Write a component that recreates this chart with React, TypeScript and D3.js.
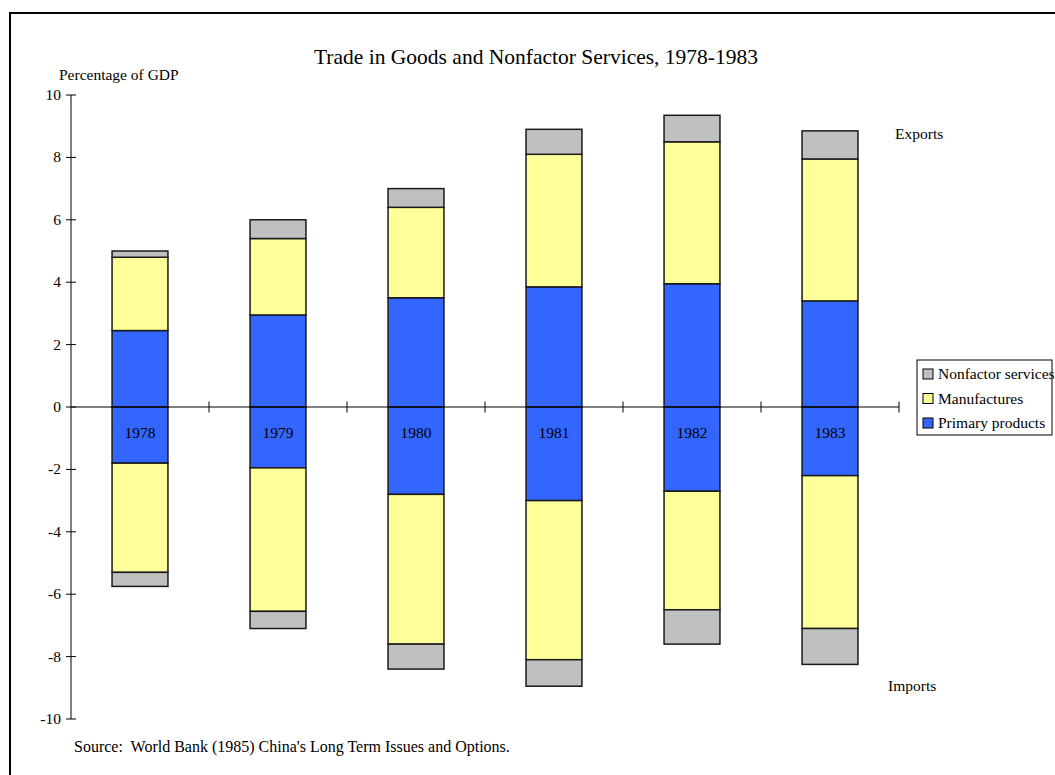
import React, { useEffect, useRef } from "react";
import * as d3 from "d3";

const years = ["1978", "1979", "1980", "1981", "1982", "1983"];
// exports, % of GDP (component values)
const primaryExports = [2.45, 2.95, 3.5, 3.85, 3.95, 3.4];
const manufExports = [2.35, 2.45, 2.9, 4.25, 4.55, 4.55];
const nonfactorExports = [0.2, 0.6, 0.6, 0.8, 0.85, 0.9];
// imports, % of GDP (negative)
const primaryImports = [-1.8, -1.95, -2.8, -3.0, -2.7, -2.2];
const manufImports = [-3.5, -4.6, -4.8, -5.1, -3.8, -4.9];
const nonfactorImports = [-0.45, -0.55, -0.8, -0.85, -1.1, -1.15];
const yTicks = [10, 8, 6, 4, 2, 0, -2, -4, -6, -8, -10];

const legendItems = [
  { key: "nonfactor", label: "Nonfactor services" },
  { key: "manuf", label: "Manufactures" },
  { key: "primary", label: "Primary products" },
];

const W = 1055;
const H = 775;
const FONT = "'Liberation Serif', 'Times New Roman', serif";

export default function App() {
  const svgRef = useRef<SVGSVGElement>(null);

  useEffect(() => {
    const svg = d3.select(svgRef.current).attr("width", W).attr("height", H);
    svg.selectAll("*").remove();

    const color: Record<string, string> = {
      primary: "#3366FF",
      manuf: "#FFFF99",
      nonfactor: "#C0C0C0",
    };

    // Frame
    svg
      .append("rect")
      .attr("x", 10)
      .attr("y", 13)
      .attr("width", W + 20)
      .attr("height", H + 20)
      .attr("fill", "white")
      .attr("stroke", "black")
      .attr("stroke-width", 2);

    const x0 = 71;
    const x1 = 899;
    const x = d3.scaleBand<string>().domain(years).range([x0, x1]);
    const y = d3.scaleLinear().domain([-10, 10]).range([719, 95]);
    const barW = x.bandwidth() * 0.405;

    const rows = years.map((yr, i) => ({
      year: yr,
      pE: primaryExports[i],
      pI: primaryImports[i],
      mE: manufExports[i],
      mI: manufImports[i],
      nE: nonfactorExports[i],
      nI: nonfactorImports[i],
    }));
    const keys = ["pE", "pI", "mE", "mI", "nE", "nI"];
    const keyColor: Record<string, string> = {
      pE: color.primary,
      pI: color.primary,
      mE: color.manuf,
      mI: color.manuf,
      nE: color.nonfactor,
      nI: color.nonfactor,
    };
    const series = d3
      .stack<any>()
      .keys(keys)
      .offset(d3.stackOffsetDiverging)(rows);

    // Bars
    series.forEach((s) => {
      svg
        .append("g")
        .selectAll("rect")
        .data(s)
        .join("rect")
        .attr("x", (d: any) => x(d.data.year)! + x.bandwidth() / 2 - barW / 2)
        .attr("y", (d) => y(Math.max(d[0], d[1])))
        .attr("width", barW)
        .attr("height", (d) => Math.abs(y(d[0]) - y(d[1])))
        .attr("fill", keyColor[s.key])
        .attr("stroke", "#1a1a1a")
        .attr("stroke-width", 1.5);
    });

    // X axis line with ticks at category boundaries
    const zeroY = y(0);
    svg
      .append("line")
      .attr("x1", x0)
      .attr("x2", x1)
      .attr("y1", zeroY)
      .attr("y2", zeroY)
      .attr("stroke", "black")
      .attr("stroke-width", 1);
    svg
      .append("g")
      .selectAll("line")
      .data(years)
      .join("line")
      .attr("x1", (d) => x(d)! + x.bandwidth())
      .attr("x2", (d) => x(d)! + x.bandwidth())
      .attr("y1", zeroY - 5.5)
      .attr("y2", zeroY + 5.5)
      .attr("stroke", "black");

    // Year labels inside bars
    svg
      .append("g")
      .selectAll("text")
      .data(years)
      .join("text")
      .attr("x", (d) => x(d)! + x.bandwidth() / 2)
      .attr("y", zeroY + 31)
      .attr("text-anchor", "middle")
      .style("font-family", FONT)
      .style("font-size", "15.5px")
      .attr("fill", "black")
      .text((d) => d);

    // Y axis
    svg
      .append("line")
      .attr("x1", x0)
      .attr("x2", x0)
      .attr("y1", y(10))
      .attr("y2", y(-10))
      .attr("stroke", "black");
    const yt = svg.append("g").selectAll("g").data(yTicks).join("g");
    yt.append("line")
      .attr("x1", x0 - 5)
      .attr("x2", x0 + 5)
      .attr("y1", (d) => y(d))
      .attr("y2", (d) => y(d))
      .attr("stroke", "black");
    yt.append("text")
      .attr("x", x0 - 10)
      .attr("y", (d) => y(d) + 5)
      .attr("text-anchor", "end")
      .style("font-family", FONT)
      .style("font-size", "15.5px")
      .attr("fill", "black")
      .text((d) => String(d));

    // Title and labels
    const txt = (tx: number, ty: number, s: string, size: number, anchor = "start") =>
      svg
        .append("text")
        .attr("x", tx)
        .attr("y", ty)
        .attr("text-anchor", anchor)
        .style("font-family", FONT)
        .style("font-size", `${size}px`)
        .attr("fill", "black")
        .text(s);

    txt(536, 64, "Trade in Goods and Nonfactor Services, 1978-1983", 21.5, "middle");
    txt(59, 80, "Percentage of GDP", 15.5);
    txt(895, 139, "Exports", 15.5);
    txt(888, 691, "Imports", 15.5);
    txt(74, 752, "Source:  World Bank (1985) China's Long Term Issues and Options.", 16).style(
      "white-space",
      "pre"
    );

    // Legend
    const lg = svg.append("g");
    lg.append("rect")
      .attr("x", 917)
      .attr("y", 360)
      .attr("width", 135)
      .attr("height", 75)
      .attr("fill", "white")
      .attr("stroke", "black")
      .attr("stroke-width", 1);
    legendItems.forEach((it, i) => {
      const cy = 374 + i * 24.5;
      lg.append("rect")
        .attr("x", 923)
        .attr("y", cy - 5)
        .attr("width", 10)
        .attr("height", 10)
        .attr("fill", color[it.key])
        .attr("stroke", "black")
        .attr("stroke-width", 1);
      lg.append("text")
        .attr("x", 938)
        .attr("y", cy + 5)
        .style("font-family", FONT)
        .style("font-size", "15.5px")
        .attr("fill", "black")
        .text(it.label);
    });
  }, []);

  return (
    <svg
      ref={svgRef}
      style={{ position: "absolute", left: 0, top: 0, display: "block" }}
    />
  );
}
